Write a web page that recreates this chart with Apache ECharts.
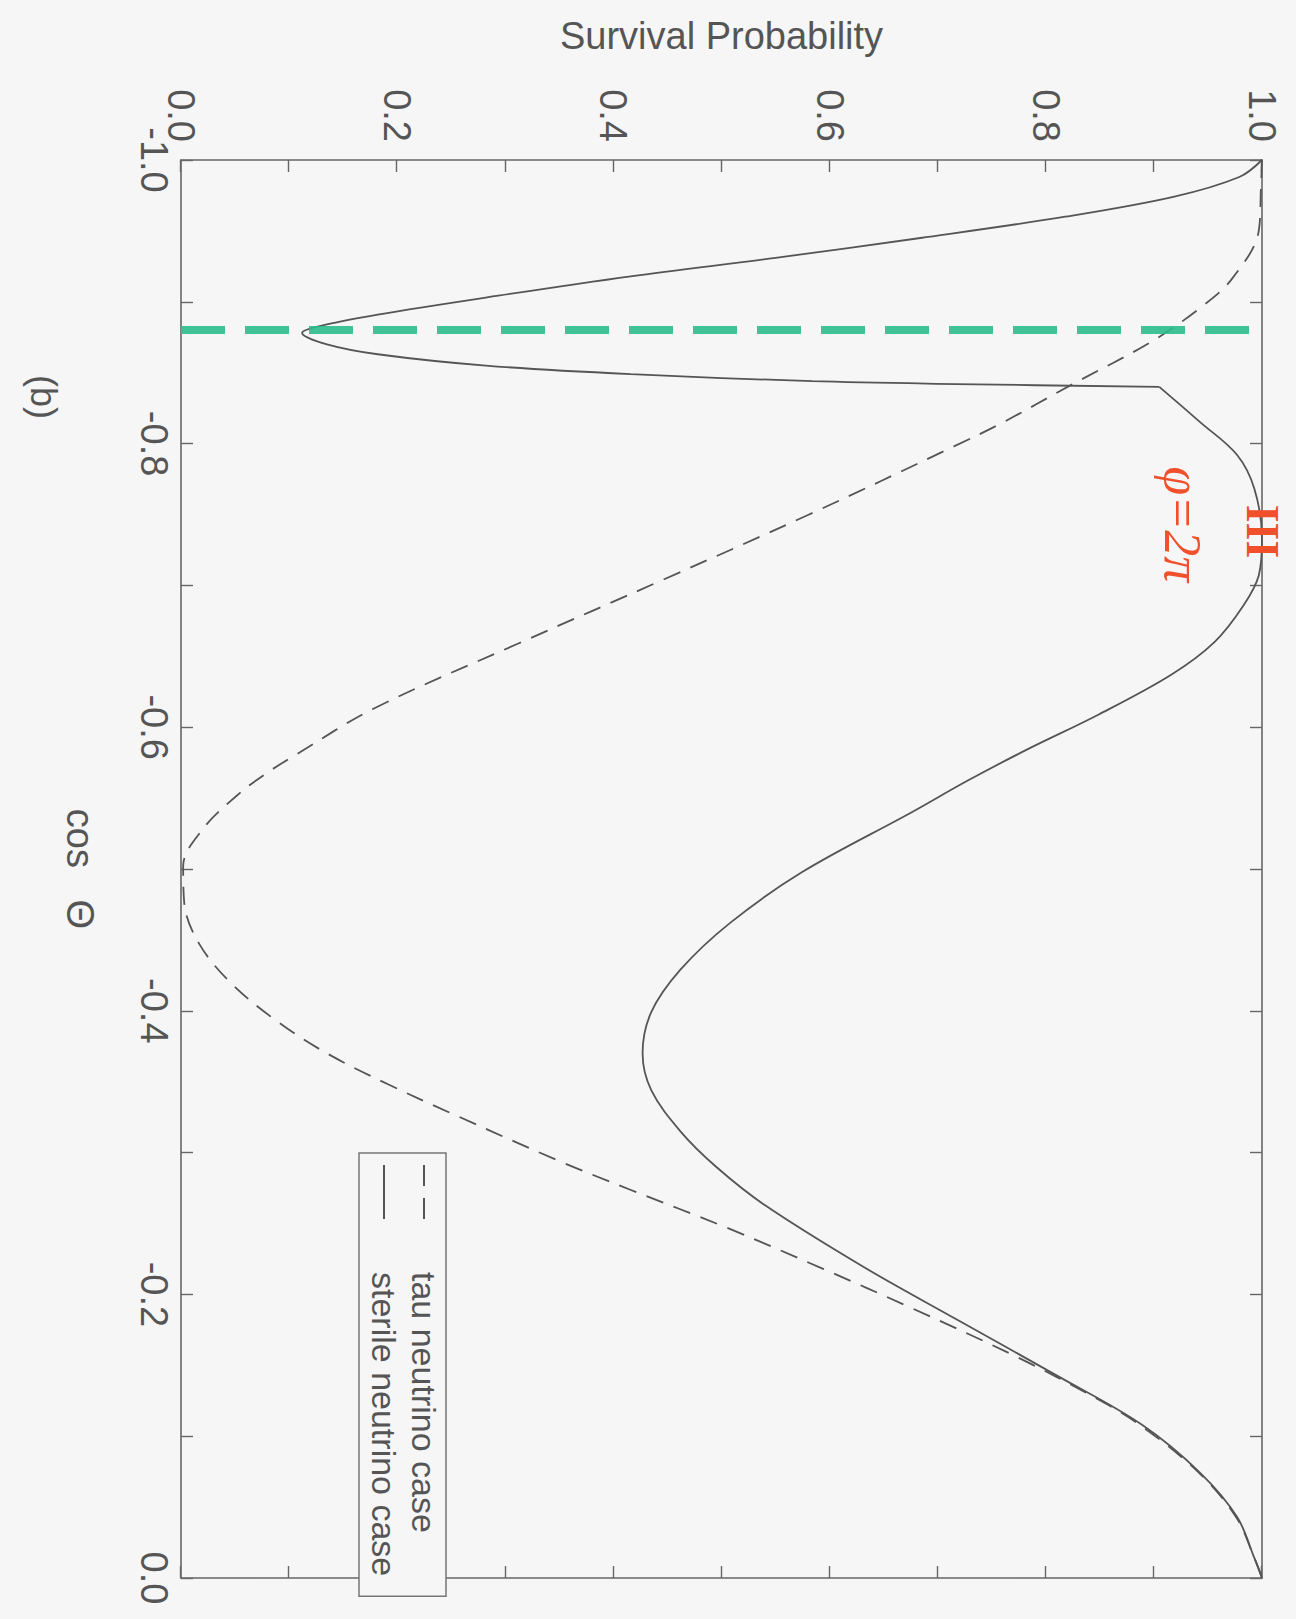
<!DOCTYPE html>
<html>
<head>
<meta charset="utf-8">
<script src="https://cdn.jsdelivr.net/npm/echarts@6/dist/echarts.min.js"></script>
<style>
  html, body { margin: 0; padding: 0; width: 1296px; height: 1619px; overflow: hidden; background: #f6f6f6; }
  /* The figure is laid out landscape and turned a quarter turn clockwise onto the portrait page. */
  #chart { position: absolute; left: 1296px; top: 0; width: 1619px; height: 1296px;
           transform-origin: 0 0; transform: rotate(90deg); }
</style>
</head>
<body>
<div id="chart"></div>
<script>
// Tick labels
const cosLabels = ['-1.0', '-0.8', '-0.6', '-0.4', '-0.2', '0.0'];
const probLabels = ['0.0', '0.2', '0.4', '0.6', '0.8', '1.0'];

// Tau neutrino case (dashed)
const tauCos = [-1.000, -0.980, -0.950, -0.916, -0.897, -0.872, -0.842, -0.814, -0.798, -0.750,
                -0.704, -0.659, -0.613, -0.580, -0.567, -0.552, -0.528, -0.502, -0.476, -0.447,
                -0.419, -0.392, -0.370, -0.348, -0.326, -0.294, -0.274, -0.247, -0.218, -0.191,
                -0.156, -0.127, -0.108, -0.074, -0.043, -0.014, 0.000];
const tauProb = [1.000, 0.999, 0.997, 0.972, 0.945, 0.898, 0.825, 0.758, 0.715, 0.581,
                 0.446, 0.312, 0.178, 0.105, 0.078, 0.052, 0.020, 0.002, 0.003, 0.017,
                 0.047, 0.090, 0.135, 0.192, 0.255, 0.350, 0.415, 0.505, 0.594, 0.674,
                 0.773, 0.846, 0.887, 0.942, 0.976, 0.993, 1.000];

// Sterile neutrino case (solid): the branch through the first dip up to the sharp corner,
// then the branch from that corner to cos = 0
const sterileCosA = [-1.000, -0.988, -0.974, -0.960, -0.945, -0.931, -0.918, -0.903, -0.891, -0.884,
                     -0.878, -0.870, -0.863, -0.855, -0.849, -0.844, -0.842, -0.840];
const sterileProbA = [1.000, 0.979, 0.918, 0.818, 0.684, 0.550, 0.416, 0.282, 0.182, 0.135,
                      0.112, 0.135, 0.182, 0.282, 0.416, 0.584, 0.717, 0.905];
const sterileCosB = [-0.840, -0.815, -0.792, -0.768, -0.733, -0.707, -0.686, -0.660, -0.637, -0.609,
                     -0.584, -0.562, -0.540, -0.498, -0.462, -0.429, -0.399, -0.370, -0.344, -0.315,
                     -0.290, -0.263, -0.220, -0.183, -0.142, -0.108, -0.074, -0.043, -0.014, 0.000];
const sterileProbB = [0.905, 0.943, 0.977, 0.993, 1.000, 0.997, 0.983, 0.956, 0.916, 0.849,
                      0.782, 0.727, 0.676, 0.575, 0.508, 0.462, 0.435, 0.427, 0.435, 0.462,
                      0.495, 0.540, 0.630, 0.716, 0.812, 0.889, 0.943, 0.977, 0.993, 1.000];

// Hand-drawn marks: vertical marker and notes
const markerCos = -0.877;
const noteTexts = ['φ=2π', 'III'];
const noteCos = [-0.743, -0.738];
const noteProb = [0.926, 1.0];

const FONT = '"Liberation Sans", Arial, Helvetica, sans-serif';
const INK = '#555';
const FRAME = '#666';

function zip(xs, ys) { return xs.map((x, i) => [x, ys[i]]); }

const chart = echarts.init(document.getElementById('chart'), null, { renderer: 'svg' });

function axisBase(min, max, labels, show, margin) {
  return {
    type: 'value', min: min, max: max, interval: 0.1,
    axisLine: { show: true, onZero: false, lineStyle: { color: FRAME, width: 1.6 } },
    axisTick: { show: true, inside: true, length: 12, lineStyle: { color: FRAME, width: 1.4 } },
    axisLabel: {
      show: show, fontSize: 38, color: INK, fontFamily: FONT, margin: margin,
      formatter: function (v) { const s = (Math.abs(v) < 1e-9 ? 0 : v).toFixed(1); return labels.indexOf(s) >= 0 ? s : ''; }
    },
    splitLine: { show: false }
  };
}

const lineCommon = { type: 'line', symbol: 'none', smooth: 0.35, z: 3, itemStyle: { color: INK } };

const option = {
  animation: false,
  backgroundColor: '#f6f6f6',
  grid: { left: 160, right: 41, top: 34, bottom: 181, containLabel: false, outerBoundsMode: 'none' },
  xAxis: [
    Object.assign(axisBase(-1, 0, cosLabels, true, 8), {
      position: 'bottom', name: 'cos   Θ', nameLocation: 'middle', nameGap: 82,
      nameTextStyle: { fontSize: 38, color: INK, fontFamily: FONT }
    }),
    Object.assign(axisBase(-1, 0, cosLabels, false, 8), { position: 'top' })
  ],
  yAxis: [
    Object.assign(axisBase(0, 1, probLabels, true, 18), {
      position: 'left', name: 'Survival Probability', nameLocation: 'middle', nameRotate: 90, nameGap: 105,
      nameTextStyle: { fontSize: 38, color: INK, fontFamily: FONT }
    }),
    Object.assign(axisBase(0, 1, probLabels, false, 18), { position: 'right' })
  ],
  legend: {
    orient: 'vertical', left: 1153, top: 850,
    data: [
      { name: 'tau neutrino case', icon: 'path://M0,0h21v2h-21z M33,0h21v2h-21z' },
      { name: 'sterile neutrino case', icon: 'path://M0,0h54v2h-54z' }
    ],
    itemWidth: 54, itemHeight: 2, itemGap: 6,
    padding: [5, 20, 8, 12],
    borderColor: '#777', borderWidth: 1.5, backgroundColor: '#f6f6f6',
    itemStyle: { color: INK },
    textStyle: { fontSize: 34, color: INK, fontFamily: FONT, lineHeight: 34, padding: [0, 0, 0, 48] }
  },
  graphic: [{
    type: 'text', x: 397, y: 1253,
    style: { text: '(b)', fontSize: 36, fill: INK, fontFamily: FONT, align: 'center', verticalAlign: 'middle' }
  }],
  series: [
    Object.assign({}, lineCommon, {
      name: 'tau neutrino case',
      lineStyle: { color: INK, width: 1.8, type: [18, 11] },
      data: zip(tauCos, tauProb)
    }),
    Object.assign({}, lineCommon, {
      name: 'sterile neutrino case',
      lineStyle: { color: INK, width: 1.8 },
      data: zip(sterileCosA, sterileProbA),
      markLine: {
        silent: true, symbol: ['none', 'none'],
        lineStyle: { color: '#2bbd8b', width: 8, type: [44, 20], opacity: 0.9 },
        label: { show: false },
        data: [{ xAxis: markerCos }]
      }
    }),
    Object.assign({}, lineCommon, {
      name: 'sterile neutrino case',
      lineStyle: { color: INK, width: 1.8 },
      data: zip(sterileCosB, sterileProbB),
      markPoint: {
        silent: true, symbol: 'circle', symbolSize: 1,
        itemStyle: { color: 'rgba(0,0,0,0)' },
        data: noteTexts.map((t, i) => ({
          coord: [noteCos[i], noteProb[i]],
          label: {
            show: true, position: 'inside', formatter: t,
            color: '#f0502c', fontFamily: '"Liberation Serif", "DejaVu Serif", serif',
            fontSize: i === 0 ? 52 : 46, fontStyle: i === 0 ? 'italic' : 'normal', fontWeight: i === 0 ? 'normal' : 'bold'
          }
        }))
      }
    })
  ]
};

chart.setOption(option);
</script>
</body>
</html>
